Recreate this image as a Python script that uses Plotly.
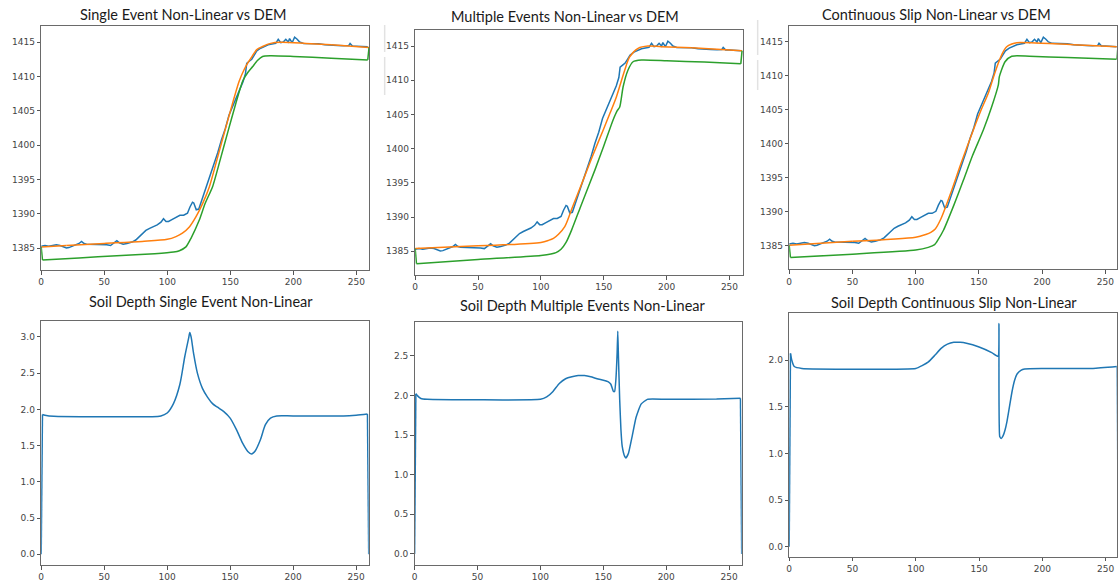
import plotly.graph_objects as go

W, H = 1118, 586

# ---------------- elevation profiles (top row) ----------------
# DEM profile shared by all three comparisons
dem_x = [0, 3, 6, 9, 12, 15, 18, 20, 22, 25, 28, 30, 32, 34, 36, 40, 44, 48, 52, 55,
         58, 60, 62, 65, 68, 72, 75, 78, 80, 83, 86, 89, 92, 95, 97, 99, 101, 104, 107,
         110, 113, 116, 118, 120, 121, 123, 125, 128, 131, 134, 137, 140, 143, 146, 149,
         152, 155, 158, 160, 162, 163, 165, 167, 169, 171, 174, 177, 180, 183, 186, 188,
         190, 192, 194, 196, 197, 199, 201, 203, 205, 208, 212, 216, 220, 225, 230, 235,
         240, 244, 245, 247, 250, 254, 259]
dem_y = [1385.3, 1385.4, 1385.3, 1385.4, 1385.5, 1385.4, 1385.2, 1385.05, 1385.1, 1385.3,
         1385.5, 1385.7, 1386.0, 1385.7, 1385.6, 1385.6, 1385.5, 1385.6, 1385.5, 1385.4,
         1385.8, 1386.1, 1385.8, 1385.6, 1385.7, 1385.9, 1386.2, 1386.7, 1387.1, 1387.6,
         1387.9, 1388.1, 1388.4, 1388.8, 1389.3, 1388.9, 1388.9, 1389.2, 1389.5, 1389.8,
         1389.8, 1390.1, 1391.0, 1391.7, 1391.6, 1390.6, 1390.7, 1392.3, 1394.0, 1395.6,
         1397.4, 1398.9, 1400.8, 1402.4, 1404.4, 1405.7, 1406.8, 1408.1, 1409.2, 1410.4,
         1411.9, 1412.2, 1412.5, 1413.1, 1413.7, 1414.1, 1414.4, 1414.6, 1414.7, 1414.8,
         1415.4, 1414.9, 1415.0, 1415.4, 1415.0, 1415.5, 1414.9, 1415.7, 1415.4, 1415.0,
         1414.8, 1414.8, 1414.7, 1414.75, 1414.6, 1414.6, 1414.5, 1414.45, 1414.5, 1414.8,
         1414.4, 1414.4, 1414.35, 1414.3]

# Single event model
single_surf_x = [0, 20, 50, 80, 100, 106.9, 112, 117.5, 122.8, 128, 133.4, 140, 146, 151.8,
                 157, 161, 164, 167.6, 171, 175.6, 182, 190, 210, 230, 260]
single_surf_y = [1385.2, 1385.4, 1385.7, 1386.0, 1386.3, 1386.7, 1387.2, 1388.1, 1389.6,
                 1391.5, 1393.96, 1398.3, 1402.3, 1406.1, 1409.3, 1411.0, 1412.0, 1413.0,
                 1413.9, 1414.35, 1414.8, 1414.95, 1414.8, 1414.6, 1414.2]
single_base_x = [0, 1, 30, 60, 90, 105, 109.6, 114.8, 118.8, 125.4, 130, 136, 142, 148,
                 154.4, 160, 164, 167.6, 171.5, 175.6, 182, 200, 230, 259, 260]
single_base_y = [1385.2, 1383.3, 1383.6, 1383.9, 1384.2, 1384.45, 1384.65, 1385.2, 1386.45,
                 1389.1, 1391.5, 1394.0, 1397.9, 1401.9, 1406.1, 1409.4, 1410.6, 1411.4,
                 1412.3, 1412.9, 1413.0, 1412.9, 1412.65, 1412.4, 1414.2]

# Multiple events model
multi_surf_x = [0, 50, 100, 106, 110, 114, 119, 125, 133.6, 141, 149.5, 155, 160.1, 163.5,
                166.7, 170.6, 177.3, 185.2, 195.8, 220, 260]
multi_surf_y = [1385.4, 1385.8, 1386.3, 1386.6, 1386.9, 1387.5, 1388.6, 1391.4, 1395.4,
                1398.9, 1402.7, 1405.2, 1407.6, 1409.6, 1411.5, 1413.4, 1414.66, 1415.0,
                1414.9, 1414.75, 1414.3]
multi_base_x = [0, 1, 50, 100, 108, 112, 116, 120, 124.4, 131.7, 143, 150, 157.4, 160.5,
                162.7, 165.4, 169.3, 173.3, 180, 200, 230, 259, 260]
multi_base_y = [1385.4, 1383.2, 1383.8, 1384.4, 1384.6, 1384.8, 1385.3, 1386.3, 1388.1,
                1391.6, 1396.9, 1400.4, 1404.2, 1405.5, 1406.1, 1409.05, 1411.5, 1412.7,
                1412.95, 1412.85, 1412.65, 1412.4, 1414.3]

# Continuous slip model
cont_surf_x = [0, 50, 100, 108, 112, 115.5, 120, 127.4, 136, 145.7, 152, 157.5, 161.5,
               165.4, 168.5, 172, 176, 180, 195, 225, 260]
cont_surf_y = [1385.1, 1385.7, 1386.3, 1386.7, 1387.0, 1387.5, 1389.0, 1392.6, 1397.2,
               1402.1, 1405.1, 1407.5, 1409.8, 1411.9, 1413.3, 1414.3, 1414.7, 1414.9,
               1414.85, 1414.6, 1414.3]
cont_base_x = [0, 1, 50, 100, 110, 115, 118, 122.1, 130, 137.8, 145, 153.6, 160, 165.4,
               166.2, 170.7, 176, 190, 220, 259, 260]
cont_base_y = [1385.1, 1383.3, 1383.8, 1384.4, 1384.8, 1385.2, 1386.0, 1387.35, 1390.9,
               1394.7, 1398.3, 1402.1, 1405.4, 1408.7, 1409.9, 1412.1, 1412.9, 1412.9,
               1412.7, 1412.45, 1414.3]

# ---------------- soil depth profiles (bottom row) ----------------
single_soil_x = [0, 1, 3, 10, 50, 95, 100, 105, 110, 114, 117, 118, 119, 121, 124, 128, 132,
                 136, 140, 145, 150, 155, 160, 164, 167, 170, 174, 178, 182, 187, 200, 240,
                 250, 259, 260]
single_soil_y = [0, 1.93, 1.92, 1.905, 1.90, 1.91, 1.95, 2.08, 2.34, 2.73, 2.98, 3.06, 3.0,
                 2.77, 2.5, 2.29, 2.17, 2.08, 2.03, 1.97, 1.88, 1.72, 1.53, 1.42, 1.385,
                 1.43, 1.58, 1.79, 1.88, 1.91, 1.91, 1.91, 1.92, 1.935, 0]

multi_soil_x = [0, 1, 2, 5, 10, 100, 105, 110, 115, 120, 125, 130, 135, 140, 145, 150, 154,
                156, 158, 159, 160, 161, 161.5, 162, 163, 164, 165, 167, 168, 170, 173, 176,
                180, 185, 200, 240, 259, 260]
multi_soil_y = [0, 2.02, 2.0, 1.96, 1.95, 1.95, 1.98, 2.05, 2.15, 2.21, 2.235, 2.25, 2.25,
                2.235, 2.21, 2.19, 2.17, 2.14, 2.05, 2.05, 2.2, 2.54, 2.81, 2.5, 1.95, 1.57,
                1.36, 1.23, 1.21, 1.27, 1.49, 1.72, 1.89, 1.95, 1.95, 1.955, 1.965, 0]

cont_soil_x = [0, 1, 2, 4, 10, 100, 105, 110, 115, 120, 125, 130, 135, 140, 150, 160, 165,
               165.7, 166.3, 167.5, 169, 170.5, 172, 174, 176, 178, 180, 183, 186, 200, 240,
               259, 260]
cont_soil_y = [0, 2.07, 2.0, 1.93, 1.91, 1.91, 1.94, 1.98, 2.05, 2.125, 2.17, 2.19, 2.19,
               2.18, 2.14, 2.08, 2.04, 2.39, 1.18, 1.16, 1.19, 1.25, 1.34, 1.5, 1.66, 1.78,
               1.85, 1.89, 1.905, 1.91, 1.91, 1.93, 0]

titles = ["Single Event Non-Linear vs DEM", "Multiple Events Non-Linear vs DEM",
          "Continuous Slip Non-Linear vs DEM", "Soil Depth Single Event Non-Linear",
          "Soil Depth Multiple Events Non-Linear", "Soil Depth Continuous Slip Non-Linear"]

elev_ticks = [1385, 1390, 1395, 1400, 1405, 1410, 1415]
dist_ticks = [0, 50, 100, 150, 200, 250]
soil_ticks = [[0.0, 0.5, 1.0, 1.5, 2.0, 2.5, 3.0],
              [0.0, 0.5, 1.0, 1.5, 2.0, 2.5],
              [0.0, 0.5, 1.0, 1.5, 2.0]]

BLUE, ORANGE, GREEN = "#1f77b4", "#ff7f0e", "#2ca02c"

# panel frames in pixels: (left, right, top, bottom)
frames = [(38.3, 367.0, 26, 270), (413.3, 742.3, 30, 275), (788.3, 1116.7, 26, 269.3),
          (38.3, 366.7, 321, 565), (412.7, 740.7, 321.7, 565), (788.3, 1116.7, 312.7, 556.7)]
x_ranges = [[0, 260], [0, 261], [0, 259], [0, 260], [0, 260], [0, 258.7]]
y_ranges = [[1381.84, 1417.33], [1381.54, 1417.34], [1381.57, 1417.35],
            [-0.148, 3.22], [-0.139, 2.929], [-0.107, 2.507]]
title_pos = [(180.8, 14), (564, 16.7), (935.8, 14), (199, 301.7), (581.7, 305), (954, 302.7)]

fig = go.Figure()


def add_profile(xs, ys, color, axis, smoothing):
    """Smooth interior of a profile plus straight boundary segments at both ends."""
    fig.add_trace(go.Scatter(x=xs[1:-1], y=ys[1:-1], mode="lines",
                             line=dict(color=color, width=1.5, shape="spline",
                                       smoothing=smoothing),
                             xaxis="x" + axis, yaxis="y" + axis, showlegend=False))
    fig.add_trace(go.Scatter(x=xs[:2] + [None] + xs[-2:], y=ys[:2] + [None] + ys[-2:],
                             mode="lines", line=dict(color=color, width=1.5),
                             connectgaps=False, xaxis="x" + axis, yaxis="y" + axis,
                             showlegend=False))


top_sets = [(single_surf_x, single_surf_y, single_base_x, single_base_y),
            (multi_surf_x, multi_surf_y, multi_base_x, multi_base_y),
            (cont_surf_x, cont_surf_y, cont_base_x, cont_base_y)]
for i, (sx, sy, bx, by) in enumerate(top_sets):
    ax = "" if i == 0 else str(i + 1)
    fig.add_trace(go.Scatter(x=dem_x, y=dem_y, mode="lines", line=dict(color=BLUE, width=1.5),
                             xaxis="x" + ax, yaxis="y" + ax, showlegend=False))
    add_profile(sx, sy, ORANGE, ax, 0.8)
    add_profile(bx, by, GREEN, ax, 0.6)

soil_sets = [(single_soil_x, single_soil_y, 0.8), (multi_soil_x, multi_soil_y, 0.4),
             (cont_soil_x, cont_soil_y, 0.4)]
for j, (sx, sy, sm) in enumerate(soil_sets):
    add_profile(sx, sy, BLUE, str(j + 4), sm)

tick_font = dict(family="DejaVu Sans", size=9, color="#444")
layout = dict(width=W, height=H, margin=dict(l=0, r=0, t=0, b=0),
              paper_bgcolor="white", plot_bgcolor="white", showlegend=False)
annotations = []
for i in range(6):
    l, r, t, b = frames[i]
    key = "" if i == 0 else str(i + 1)
    common = dict(showgrid=False, zeroline=False, showline=True, mirror=True,
                  linecolor="#6a6a6a", linewidth=1, ticks="outside", ticklen=3.5,
                  tickwidth=1, tickcolor="#555", tickfont=tick_font)
    layout["xaxis" + key] = dict(common, domain=[l / W, r / W], range=x_ranges[i],
                                 tickvals=dist_ticks, anchor="y" + key)
    if i < 3:
        ytick = dict(tickvals=elev_ticks)
    else:
        ytick = dict(tickvals=soil_ticks[i - 3], tickformat=".1f")
    layout["yaxis" + key] = dict(common, domain=[1 - b / H, 1 - t / H], range=y_ranges[i],
                                 anchor="x" + key, **ytick)
    tx, ty = title_pos[i]
    annotations.append(dict(text=titles[i], x=tx / W, y=1 - ty / H, xref="paper",
                            yref="paper", xanchor="center", yanchor="middle",
                            showarrow=False,
                            font=dict(family="Lato", size=14.5, color="#1a1a1a")))

layout["annotations"] = annotations
# faint vertical rules at the left of the middle and right upper panels
shapes = []
for (sx, y0, y1) in [(382.7, 25, 52), (382.7, 57, 95), (756.7, 20, 55), (756.7, 60, 90)]:
    shapes.append(dict(type="line", xref="paper", yref="paper", x0=sx / W, x1=sx / W,
                       y0=1 - y1 / H, y1=1 - y0 / H, line=dict(color="#e2e2e2", width=1.5)))
layout["shapes"] = shapes
fig.update_layout(**layout)

fig.write_html("out.html")
